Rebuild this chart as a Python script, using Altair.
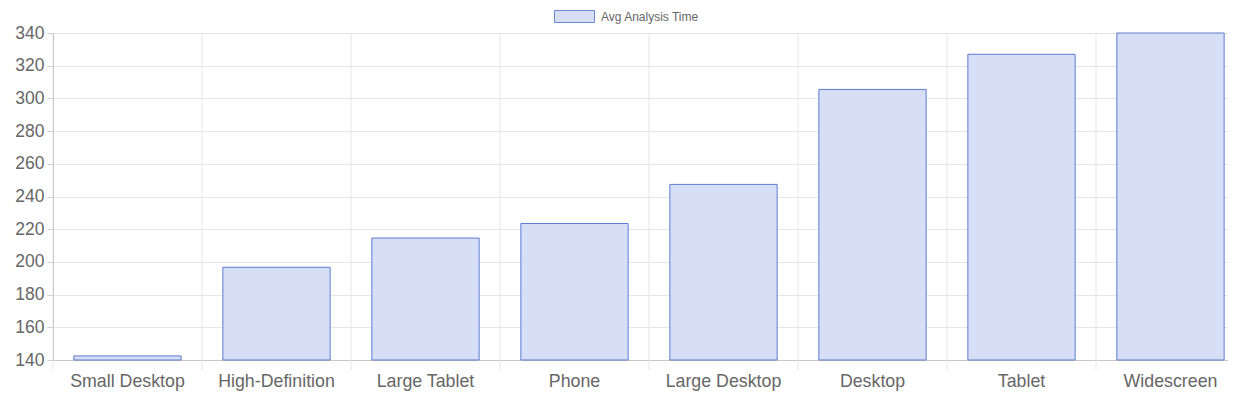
import altair as alt
import pandas as pd

categories = ["Small Desktop", "High-Definition", "Large Tablet", "Phone",
              "Large Desktop", "Desktop", "Tablet", "Widescreen"]
values = [142.5, 196.7, 214.6, 223.5, 247.4, 305.5, 327.0, 340.0]
series_name = "Avg Analysis Time"
y_ticks = [140, 160, 180, 200, 220, 240, 260, 280, 300, 320, 340]

df = pd.DataFrame({"category": categories, "value": values,
                   "series": [series_name] * len(categories)})

FONT = "Liberation Sans"
GRID = "#e6e6e6"

xscale = alt.Scale(paddingInner=0, paddingOuter=0, range=[0, 1192])
yscale = alt.Scale(domain=[140, 340], nice=False, zero=False, clamp=True)

xaxis = alt.Axis(labelAngle=0, labelFontSize=17.8, labelColor="#666",
                 labelFont=FONT, ticks=False, grid=False,
                 domainColor="#c8c8c8", labelPadding=12)

grid = alt.Chart(df).mark_rule(color=GRID, strokeWidth=1).encode(
    x=alt.X("category:N", sort=None, scale=xscale, bandPosition=0,
            title=None, axis=xaxis),
    y=alt.value(0),
    y2=alt.value(337),
)

bars = alt.Chart(df).mark_bar(
    width=alt.RelativeBandSize(0.72),
    stroke="#5b7bd0",
    strokeWidth=1,
).encode(
    x=alt.X("category:N", sort=None, scale=xscale, title=None, axis=xaxis),
    y=alt.Y("value:Q", scale=yscale, title=None,
            axis=alt.Axis(values=y_ticks, labelFontSize=17.5, labelColor="#666",
                          labelFont=FONT, tickSize=6, tickColor="#cfcfcf",
                          domainColor="#aaaaaa", gridColor=GRID,
                          labelPadding=3)),
    y2=alt.datum(140),
    color=alt.Color("series:N", scale=alt.Scale(range=["#d7dff6"]), title=None,
                    legend=alt.Legend(orient="none", legendX=501, legendY=-37,
                                      direction="horizontal",
                                      symbolType="M-1,-0.3L1,-0.3L1,0.3L-1,0.3Z",
                                      symbolSize=1600,
                                      symbolStrokeColor="#6b87d6",
                                      symbolStrokeWidth=1,
                                      symbolOpacity=1,
                                      labelFontSize=12, labelColor="#666",
                                      labelFont=FONT, labelOffset=6)),
)

chart = alt.layer(grid, bars).properties(
    width=1175, height=327,
    padding={"left": 45, "top": 25, "right": 0, "bottom": 32},
    autosize="none",
).configure_view(stroke=None)

chart.save("out.html", embed_options={"renderer": "svg", "actions": False})
